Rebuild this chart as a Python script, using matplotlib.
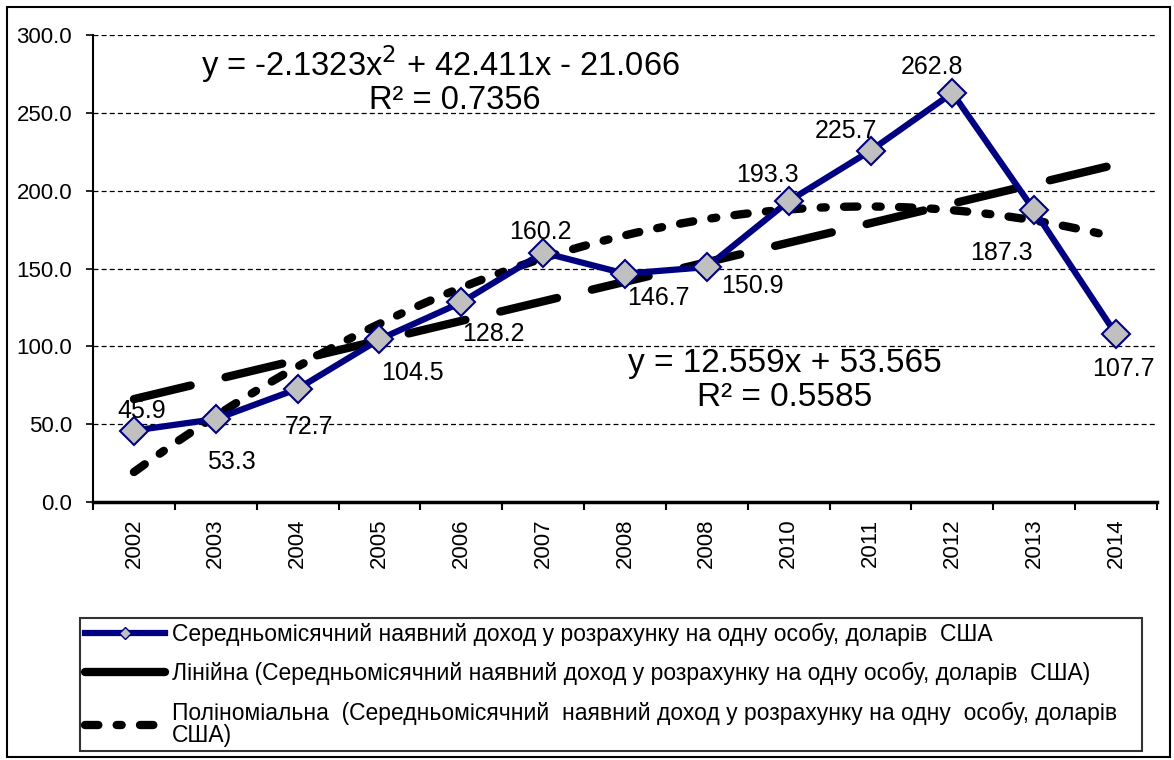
import numpy as np
import matplotlib.pyplot as plt
from matplotlib.patches import Rectangle
from matplotlib.lines import Line2D

plt.rcParams['font.family'] = ['Liberation Sans', 'DejaVu Sans']

years = ["2002", "2003", "2004", "2005", "2006", "2007", "2008",
         "2008", "2010", "2011", "2012", "2013", "2014"]
income = [45.9, 53.3, 72.7, 104.5, 128.2, 160.2, 146.7,
          150.9, 193.3, 225.7, 262.8, 187.3, 107.7]
# data label offsets in pixels (right, up)
lab_off = [(8, 20), (16, -43), (11, -38), (33, -34), (32, -32), (-3, 21), (33, -24),
           (46, -19), (-21, 26), (-25, 20), (-20, 26), (-33, -43), (7, -35)]

leg_labels = [
    "Середньомісячний наявний доход у розрахунку на одну особу, доларів  США",
    "Лінійна (Середньомісячний наявний доход у розрахунку на одну особу, доларів  США)",
    "Поліноміальна  (Середньомісячний  наявний доход у розрахунку на одну  особу, доларів\nСША)",
]

x = np.arange(1, len(income) + 1)
lin = np.polyfit(x, income, 1)
poly = np.polyfit(x, income, 2)

fig = plt.figure(figsize=(11.74, 7.6), dpi=100)
ax = fig.add_axes([93 / 1174, 1 - 502 / 760, (1157 - 93) / 1174, (502 - 35) / 760])

# outer border
fig.patches.append(Rectangle((7 / 1174, 3 / 760), 1163 / 1174, 750 / 760,
                             transform=fig.transFigure, fill=False,
                             edgecolor='black', linewidth=1.5))

ax.set_ylim(0, 300)
ax.set_xlim(0.5, len(income) + 0.5)
ax.set_yticks(np.arange(0, 301, 50))
ax.set_yticklabels(["%.1f" % v for v in np.arange(0, 301, 50)], fontsize=16)
ax.set_xticks(np.arange(0.5, len(income) + 1, 1))
ax.set_xticklabels([])
ax.set_xticks(x, minor=True)
ax.set_xticklabels(years, minor=True, rotation=90, fontsize=16)
ax.tick_params(axis='x', which='minor', length=0, pad=12)
ax.tick_params(axis='x', which='major', length=6, width=1.5, direction='out')
ax.tick_params(axis='y', length=5, width=1.2, direction='out', pad=10)
for v in np.arange(50, 301, 50):
    ax.axhline(v, color='black', linestyle=(0, (4, 2.5)), linewidth=0.9, zorder=0)
ax.spines['top'].set_visible(False)
ax.spines['right'].set_visible(False)
ax.spines['left'].set_linewidth(1.5)
ax.spines['bottom'].set_linewidth(2.5)

poly_style = (0, (1.6, 2.2, 0.6, 2.2))
xs = np.linspace(1, len(income), 200)
ax.plot(x, np.polyval(lin, x), color='black', linewidth=6,
        linestyle=(0, (7, 4.3)), dash_capstyle='round', zorder=2)
ax.plot(xs, np.polyval(poly, xs), color='black', linewidth=6,
        linestyle=poly_style, dash_capstyle='round', zorder=2)
ax.plot(x, income, color='#000080', linewidth=4.5, marker='D', markersize=14,
        markerfacecolor='#C0C0C0', markeredgecolor='#000080', markeredgewidth=1.5, zorder=3)

for xi, v, off in zip(x, income, lab_off):
    ax.annotate("%.1f" % v, (xi, v), xytext=off, textcoords='offset pixels',
                ha='center', va='center', fontsize=18)

ax.text(4.74, 281, "y = -2.1323x$^2$ + 42.411x - 21.066", ha='center', va='center', fontsize=23.5)
ax.text(4.92, 258, "R² = 0.7356", ha='center', va='center', fontsize=23.5)
ax.text(8.95, 89, "y = 12.559x + 53.565", ha='center', va='center', fontsize=24)
ax.text(8.95, 67, "R² = 0.5585", ha='center', va='center', fontsize=24)

handles = [
    Line2D([], [], color='#000080', linewidth=4.5, marker='D', markersize=6,
           markerfacecolor='#C0C0C0', markeredgecolor='#000080'),
    Line2D([], [], color='black', linewidth=6, solid_capstyle='round'),
    Line2D([], [], color='black', linewidth=6, linestyle=poly_style,
           dash_capstyle='round'),
]
leg = fig.legend(handles, leg_labels, loc='upper left',
                 bbox_to_anchor=(80 / 1174, 1 - 752 / 760, 1062 / 1174, 134 / 760),
                 mode='expand', fontsize=16.5, frameon=True, fancybox=False,
                 handlelength=3.5, handletextpad=0.3, labelspacing=0.72,
                 borderaxespad=0, borderpad=0.2, numpoints=1)
leg.get_frame().set_edgecolor('black')
leg.get_frame().set_linewidth(1.5)
for t in leg.get_texts():
    t.set_linespacing(0.92)

fig.savefig("out.png", dpi=100)
